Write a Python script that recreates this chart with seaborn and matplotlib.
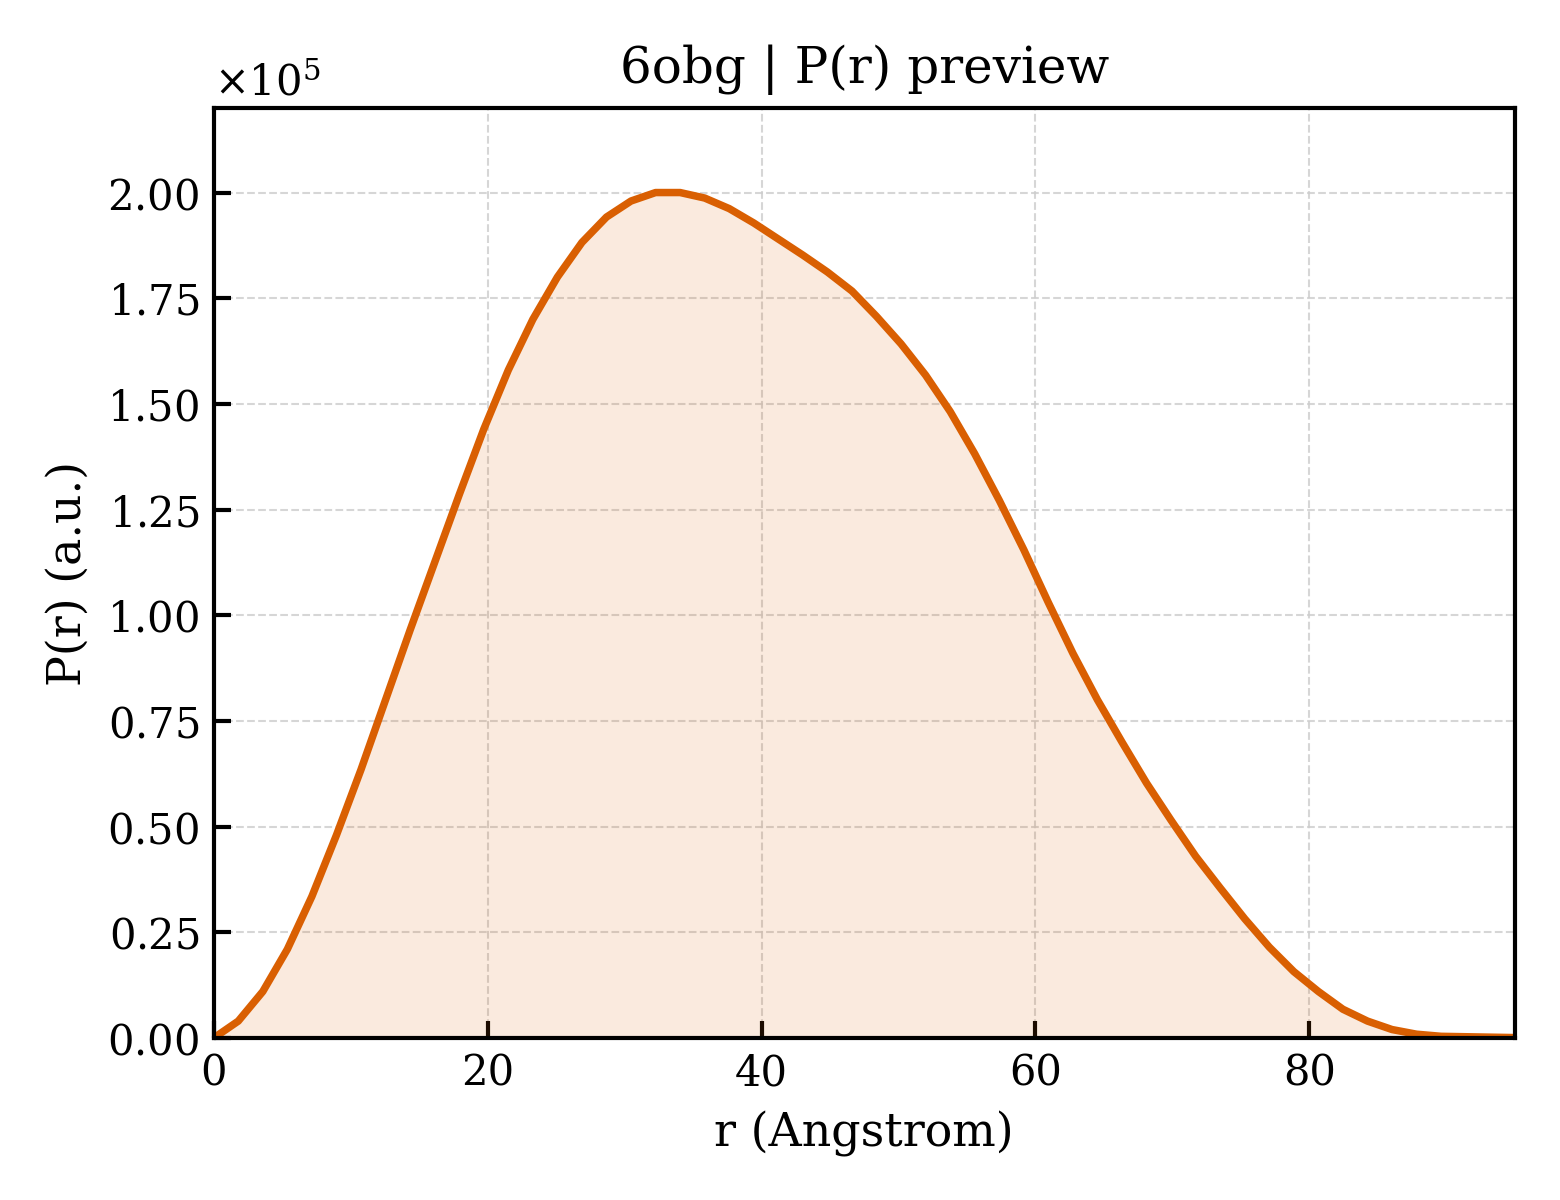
import numpy as np
import pandas as pd
import matplotlib
matplotlib.use("Agg")
import matplotlib.pyplot as plt
from matplotlib.ticker import ScalarFormatter
import seaborn as sns

r_angstrom = np.linspace(0, 95, 54)
pr_values = np.array([
    0.000, 0.040, 0.110, 0.210, 0.335, 0.480, 0.635, 0.800, 0.965, 1.125,
    1.285, 1.440, 1.580, 1.700, 1.800, 1.882, 1.942, 1.980, 2.000, 2.000,
    1.987, 1.962, 1.928, 1.890, 1.852, 1.812, 1.767, 1.707, 1.642, 1.568,
    1.482, 1.382, 1.272, 1.155, 1.030, 0.910, 0.800, 0.700, 0.603, 0.515,
    0.430, 0.355, 0.282, 0.215, 0.157, 0.110, 0.068, 0.040, 0.020, 0.009,
    0.004, 0.003, 0.002, 0.001,
]) * 1e5

pdb_id = "6obg"
line_color = "#D95F02"

sns.set_theme(style="white")
plt.rcParams.update({
    "font.family": ["DejaVu Serif"],
    "mathtext.fontset": "dejavuserif",
    "text.color": "black",
    "axes.labelcolor": "black",
    "axes.edgecolor": "black",
    "axes.linewidth": 1.0,
    "xtick.direction": "in",
    "ytick.direction": "in",
    "xtick.major.size": 4,
    "ytick.major.size": 4,
    "xtick.major.width": 1.0,
    "ytick.major.width": 1.0,
    "xtick.color": "black",
    "ytick.color": "black",
    "xtick.labelsize": 10,
    "ytick.labelsize": 10,
})

df = pd.DataFrame({"r": r_angstrom, "pr": pr_values})

fig, ax = plt.subplots(figsize=(5.2, 4.0), dpi=300)
sns.lineplot(data=df, x="r", y="pr", ax=ax, color=line_color, lw=1.8)
ax.fill_between(df["r"], df["pr"], 0, color=line_color, alpha=0.13, lw=0)

ax.set_xlim(0, r_angstrom.max())
ax.set_ylim(0, pr_values.max() * 1.1)
ax.grid(True, ls="--", lw=0.5, color="#cccccc", alpha=0.8)
ax.tick_params(left=True, bottom=True, top=False, right=False)

fmt = ScalarFormatter(useMathText=True)
fmt.set_powerlimits((0, 0))
ax.yaxis.set_major_formatter(fmt)
ax.yaxis.get_offset_text().set_fontsize(10)

ax.set_xlabel("r (Angstrom)", fontsize=11, color="black")
ax.set_ylabel("P(r) (a.u.)", fontsize=11, color="black")
ax.set_title(f"{pdb_id} | P(r) preview", fontsize=12, color="black")

fig.subplots_adjust(left=0.137, right=0.971, top=0.91, bottom=0.135)
fig.savefig("out.png", dpi=300)
plt.close(fig)
